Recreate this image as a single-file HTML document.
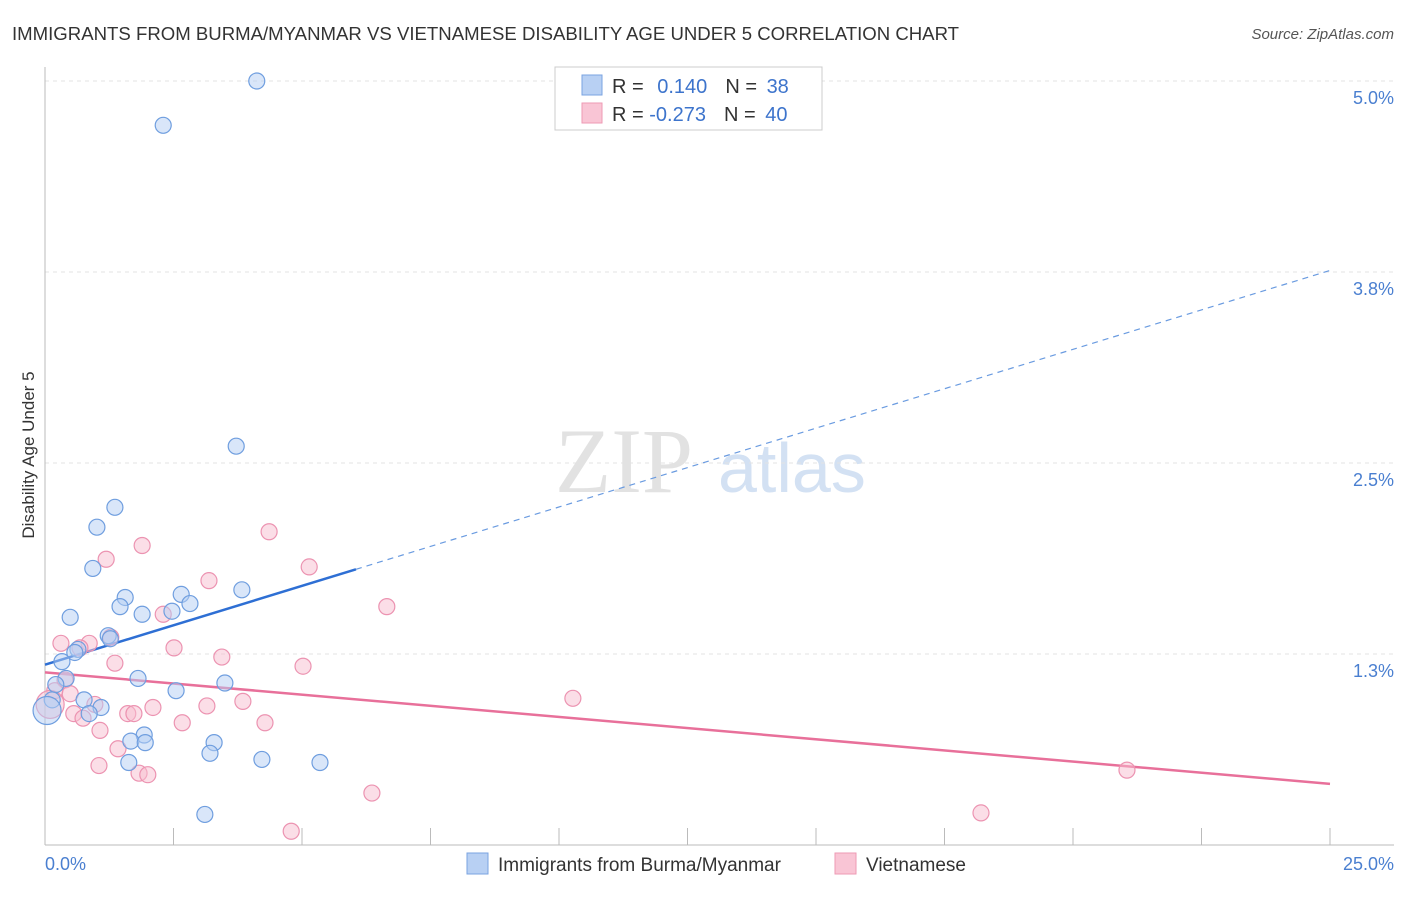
<!DOCTYPE html>
<html><head><meta charset="utf-8"><style>
body{margin:0;background:#fff;font-family:"Liberation Sans",sans-serif;}
</style></head><body>
<svg width="1406" height="892" xmlns="http://www.w3.org/2000/svg" font-family="Liberation Sans, sans-serif">
<text x="12" y="40" font-size="18.6" fill="#333">IMMIGRANTS FROM BURMA/MYANMAR VS VIETNAMESE DISABILITY AGE UNDER 5 CORRELATION CHART</text>
<text x="1394" y="39" font-size="15" fill="#555" font-style="italic" text-anchor="end">Source: ZipAtlas.com</text>
<text x="555" y="492" font-size="92" fill="#e2e2e2" style="font-family:'Liberation Serif',serif">ZIP</text>
<text x="718" y="492" font-size="70" fill="#d3e1f3">atlas</text>
<g id="grid"></g><g id="axes"></g><g id="trends"></g><g id="pts"></g>
<text transform="translate(34,455) rotate(-90)" font-size="17" fill="#333" text-anchor="middle">Disability Age Under 5</text>
<text x="45" y="870" font-size="18" fill="#4a7fd0">0.0%</text>
<text x="1394" y="870" font-size="18" fill="#4a7fd0" text-anchor="end">25.0%</text>
<g>
<rect x="555" y="67" width="267" height="63" fill="#fff" stroke="#ccc"/>
<rect x="582" y="75" width="20" height="20" fill="#b8d0f3" stroke="#7aa3e0"/>
<rect x="582" y="103" width="20" height="20" fill="#f9c5d5" stroke="#ee9ab4"/>
<text x="612" y="93" font-size="20" fill="#333">R = <tspan fill="#3d74cc" dx="8">0.140</tspan><tspan dx="18" fill="#333">N = </tspan><tspan fill="#3d74cc" dx="4">38</tspan></text>
<text x="612" y="121" font-size="20" fill="#333">R = <tspan fill="#3d74cc" dx="0">-0.273</tspan><tspan dx="18" fill="#333">N = </tspan><tspan fill="#3d74cc" dx="4">40</tspan></text>
</g>
<g>
<rect x="467" y="853" width="21" height="21" fill="#b8d0f3" stroke="#7aa3e0"/>
<text x="498" y="871" font-size="19" fill="#333">Immigrants from Burma/Myanmar</text>
<rect x="835" y="853" width="21" height="21" fill="#f9c5d5" stroke="#ee9ab4"/>
<text x="866" y="871" font-size="19" fill="#333">Vietnamese</text>
</g>
</svg>
<script>
const yTicks=[1.25,2.5,3.75,5.0];
const yTickLabels=["1.3%","2.5%","3.8%","5.0%"];
const xTicks=[0,2.5,5,7.5,10,12.5,15,17.5,20,22.5,25];
const blueX=[4.12,2.30,3.72,1.36,1.01,0.93,1.56,1.46,2.65,2.82,2.47,1.89,3.83,0.49,1.23,1.27,0.64,0.58,0.33,1.81,0.41,0.21,3.50,2.55,0.76,0.14,1.09,0.86,1.93,1.67,1.95,3.29,3.21,4.22,5.35,1.63,3.11,0.04];
const blueY=[5.0,4.71,2.61,2.21,2.08,1.81,1.62,1.56,1.64,1.58,1.53,1.51,1.67,1.49,1.37,1.35,1.28,1.26,1.20,1.09,1.09,1.05,1.06,1.01,0.95,0.95,0.90,0.86,0.72,0.68,0.67,0.67,0.60,0.56,0.54,0.54,0.20,0.88];
const pinkX=[4.36,1.89,1.19,5.14,3.19,6.65,2.30,0.31,0.86,0.68,2.51,1.28,3.44,1.36,5.02,0.39,0.49,10.27,3.85,0.97,3.15,2.10,1.61,1.73,0.56,0.74,2.67,4.28,1.07,1.42,1.05,1.83,2.00,21.05,6.36,18.21,4.79,0.19,0.1];
const pinkY=[2.05,1.96,1.87,1.82,1.73,1.56,1.51,1.32,1.32,1.29,1.29,1.36,1.23,1.19,1.17,1.08,0.99,0.96,0.94,0.92,0.91,0.90,0.86,0.86,0.86,0.83,0.80,0.80,0.75,0.63,0.52,0.47,0.46,0.49,0.34,0.21,0.09,1.01,0.92];
const blueTrend=[1.18,3.76];
const pinkTrend=[1.13,0.40];
const NS="http://www.w3.org/2000/svg";
const X=v=>45+v*51.4, Y=v=>845-v*152.8;
function mk(par,tag,at){const e=document.createElementNS(NS,tag);for(const k in at)e.setAttribute(k,at[k]);document.getElementById(par).appendChild(e);return e;}
yTicks.forEach((t,i)=>{
 let l=mk('grid','line',{x1:45,x2:1394,y1:Y(t),y2:Y(t),stroke:'#e3e3e3','stroke-dasharray':'4,4'});
 
 
 let tx=mk('grid','text',{x:1394,y:Y(t)+23,'font-size':18,fill:'#4a7fd0','text-anchor':'end'});tx.textContent=yTickLabels[i];
 
 
});
let ax=mk('axes','line',{x1:45,x2:1394,y1:845,y2:845,stroke:'#bbb'});


let ay=mk('axes','line',{x1:45,x2:45,y1:67,y2:845,stroke:'#bbb'});


xTicks.forEach(t=>{let l=mk('axes','line',{x1:X(t),x2:X(t),y1:828,y2:845,stroke:'#bbb'});
 
 });
let bs=mk('trends','line',{x1:X(0),y1:Y(blueTrend[0]),x2:X(6.05),y2:Y(blueTrend[0]+(blueTrend[1]-blueTrend[0])*6.05/25),stroke:'#2e6fd4','stroke-width':2.5});


let bd=mk('trends','line',{x1:X(6.05),y1:Y(blueTrend[0]+(blueTrend[1]-blueTrend[0])*6.05/25),x2:X(25),y2:Y(blueTrend[1]),stroke:'#6a9be0','stroke-width':1.2,'stroke-dasharray':'6,5'});


let pt=mk('trends','line',{x1:X(0),y1:Y(pinkTrend[0]),x2:X(25),y2:Y(pinkTrend[1]),stroke:'#e8709a','stroke-width':2.5});


pinkX.forEach((v,i)=>{let c=mk('pts','circle',{cx:X(v),cy:Y(pinkY[i]),r:i==pinkX.length-1?14:8,fill:'rgba(248,190,208,0.5)',stroke:'#ec93b1','stroke-width':1.2});
 
 });
blueX.forEach((v,i)=>{let c=mk('pts','circle',{cx:X(v),cy:Y(blueY[i]),r:i==blueX.length-1?14:8,fill:'rgba(180,205,243,0.5)',stroke:'#6f9edf','stroke-width':1.2});
 
 });
</script>
</body></html>
